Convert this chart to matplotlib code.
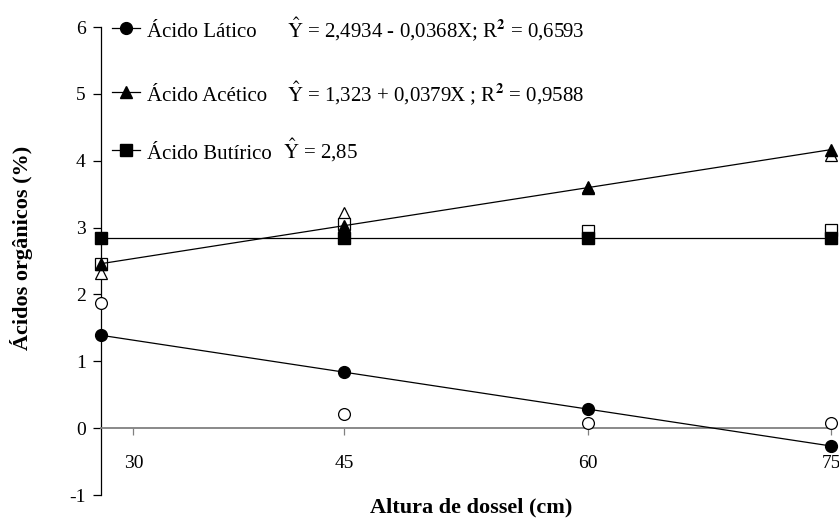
import matplotlib
matplotlib.use("Agg")
import matplotlib.pyplot as plt
import numpy as np

plt.rcParams['font.family'] = ['Liberation Serif', 'DejaVu Serif']
plt.rcParams['mathtext.fontset'] = 'stix'

# Data
x_vals = [30, 45, 60, 75]
lat_obs = [1.87, 0.21, 0.07, 0.08]
ace_obs = [2.32, 3.22, 3.60, 4.08]
but_obs = [2.45, 3.05, 2.95, 2.97]
lat_fit = [1.389, 0.837, 0.285, -0.267]
ace_fit = [2.460, 3.029, 3.597, 4.166]
but_fit = [2.85, 2.85, 2.85, 2.85]

names = ["Ácido Lático", "Ácido Acético", "Ácido Butírico"]
eqs = [r"$\hat{\mathrm{Y}}$ = 2,4934 - 0,0368X; R$^{\mathbf{2}}$ = 0,6593",
       r"$\hat{\mathrm{Y}}$ = 1,323 + 0,0379X ; R$^{\mathbf{2}}$ = 0,9588",
       r"$\hat{\mathrm{Y}}$ = 2,85"]
markers = ['o', '^', 's']
tick_pos = [32, 45, 60, 75]
tick_lab = ["30", "45", "60", "75"]
y_ticks = [-1, 0, 1, 2, 3, 4, 5, 6]

W, H = 839, 524
fig = plt.figure(figsize=(W/100, H/100), dpi=100)
L, R, T, B = 101, 831, 27, 495
ax = fig.add_axes([L/W, (H-B)/H, (R-L)/W, (B-T)/H])
ax.set_xlim(30, 75)
ax.set_ylim(-1, 6)

ms = 8.5
# observed (open) markers first
for obs, m in zip([lat_obs, ace_obs, but_obs], markers):
    ax.plot(x_vals, obs, linestyle='none', marker=m, ms=ms, mfc='white',
            mec='black', mew=0.9, clip_on=False, zorder=3)
# fitted lines with filled markers
for fit, m in zip([lat_fit, ace_fit, but_fit], markers):
    ax.plot(x_vals, fit, color='black', lw=0.9, marker=m, ms=ms, mfc='black',
            mec='black', clip_on=False, zorder=4)

for s in ['top', 'right']:
    ax.spines[s].set_visible(False)
ax.spines['bottom'].set_position(('data', 0))
ax.spines['bottom'].set_color('#808080')
ax.spines['bottom'].set_linewidth(1.3)
ax.spines['left'].set_linewidth(0.9)

ax.set_yticks(y_ticks)
ax.set_yticklabels([str(v) for v in y_ticks])
ax.set_xticks(tick_pos)
ax.set_xticklabels(tick_lab)
ax.tick_params(axis='y', direction='out', length=6, width=0.9, labelsize=14, pad=5)
ax.tick_params(axis='x', direction='out', length=5, width=0.9, color='#808080',
               labelsize=14, pad=14)

# legend drawn manually
def fx(px):
    return (px - L) / (R - L)
def fy(py):
    return (B - py) / (B - T)

rows_y = [28, 92, 150]
eq_x = [287, 287, 283]
for ry, m, nm, eq, ex in zip(rows_y, markers, names, eqs, eq_x):
    ax.plot([fx(112), fx(140)], [fy(ry), fy(ry)], transform=ax.transAxes,
            color='black', lw=0.9, clip_on=False)
    ax.plot([fx(126)], [fy(ry)], transform=ax.transAxes, marker=m, ms=ms,
            color='black', clip_on=False)
    ax.text(fx(147), fy(ry + 9), nm, transform=ax.transAxes, fontsize=15,
            va='baseline', ha='left')
    ax.text(fx(ex), fy(ry + 9), eq, transform=ax.transAxes, fontsize=15,
            va='baseline', ha='left')

fig.text(471/W, 1 - 507/H, "Altura de dossel (cm)", fontsize=16,
         fontweight='bold', ha='center', va='center')
fig.text(22/W, 1 - 248/H, "Ácidos orgânicos (%)", fontsize=16,
         fontweight='bold', ha='center', va='center', rotation=90)

fig.savefig("out.png", dpi=100)
